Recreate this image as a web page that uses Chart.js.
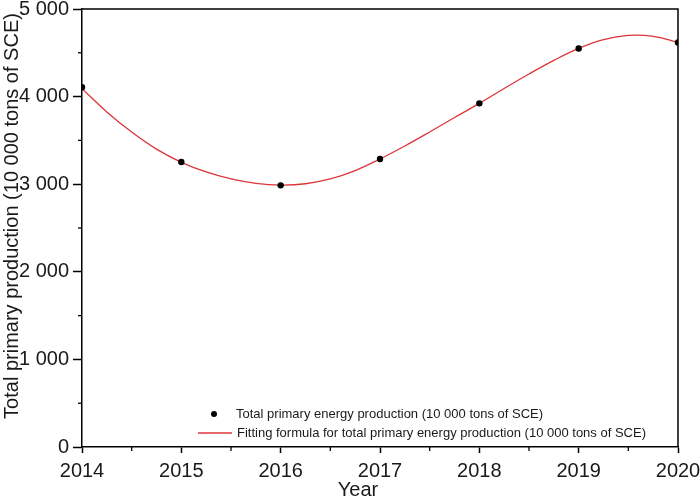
<!DOCTYPE html>
<html>
<head>
<meta charset="utf-8">
<script src="https://cdn.jsdelivr.net/npm/chart.js@4/dist/chart.umd.min.js"></script>
<style>
  html, body { margin: 0; padding: 0; background: #ffffff; }
  #wrap { width: 700px; height: 502px; position: relative; }
</style>
</head>
<body>
<div id="wrap"><canvas id="c" width="700" height="502"></canvas></div>
<script>
// ---- data ----
const years = [2014, 2015, 2016, 2017, 2018, 2019, 2020];
const production = [4106, 3253, 2987, 3288, 3923, 4549, 4617];

const fitYears = [2014, 2014.25, 2014.5, 2014.75, 2015, 2015.25, 2015.5, 2015.75,
                  2016, 2016.25, 2016.5, 2016.75, 2017, 2017.25, 2017.5, 2017.75,
                  2018, 2018.25, 2018.5, 2018.75, 2019, 2019.25, 2019.5, 2019.75, 2020];
const fitValues = [4090, 3825, 3595, 3400, 3250, 3140, 3060, 3010,
                   2990, 3005, 3060, 3155, 3288, 3436, 3596, 3761,
                   3923, 4093, 4258, 4413, 4550, 4650, 4698, 4688, 4618];

const xTickValues = [2014, 2015, 2016, 2017, 2018, 2019, 2020];
const yTickValues = [0, 1000, 2000, 3000, 4000, 5000];

const pointLabel = 'Total primary energy production (10 000 tons of SCE)';
const fitLabel = 'Fitting formula for total primary energy production (10 000 tons of SCE)';
const xTitle = 'Year';
const yTitle = 'Total primary production (10 000 tons of SCE)';

// ---- styling ----
const RED = '#dc3538';
const INK = '#1c1a18';
const FONT = '"Liberation Sans", Arial, Helvetica, sans-serif';

function fmtY(v) {
  if (v === 0) return '0';
  const th = Math.floor(v / 1000);
  const rest = String(v % 1000).padStart(3, '0');
  return th + ' ' + rest;
}

const decorPlugin = {
  id: 'decor',
  afterDraw(chart) {
    const ctx = chart.ctx;
    const a = chart.chartArea;
    const xs = chart.scales.x, ys = chart.scales.y;
    ctx.save();
    // top & right frame
    ctx.strokeStyle = '#000';
    ctx.lineWidth = 1.5;
    ctx.beginPath();
    ctx.moveTo(a.left, a.top);
    ctx.lineTo(a.right, a.top);
    ctx.lineTo(a.right, a.bottom);
    ctx.stroke();
    // minor ticks
    ctx.lineWidth = 1.3;
    for (let i = 0; i < xTickValues.length - 1; i++) {
      const px = xs.getPixelForValue((xTickValues[i] + xTickValues[i + 1]) / 2);
      ctx.beginPath(); ctx.moveTo(px, a.bottom); ctx.lineTo(px, a.bottom + 4); ctx.stroke();
    }
    for (let i = 0; i < yTickValues.length - 1; i++) {
      const py = ys.getPixelForValue((yTickValues[i] + yTickValues[i + 1]) / 2);
      ctx.beginPath(); ctx.moveTo(a.left - 4, py); ctx.lineTo(a.left, py); ctx.stroke();
    }
    // axis titles
    ctx.fillStyle = INK;
    ctx.font = '20px ' + FONT;
    ctx.textAlign = 'center';
    ctx.textBaseline = 'middle';
    ctx.fillText(xTitle, 358, 490);
    ctx.save();
    ctx.translate(12, 216);
    ctx.rotate(-Math.PI / 2);
    ctx.font = '20px ' + FONT;
    ctx.fillText(yTitle, 0, 0);
    ctx.restore();
    // legend
    const drawFit = (text, x, y, target) => {
      ctx.font = '13px ' + FONT;
      ctx.textAlign = 'left';
      ctx.textBaseline = 'middle';
      const w = ctx.measureText(text).width;
      ctx.save();
      ctx.translate(x, y);
      if (w > target) ctx.scale(target / w, 1);
      ctx.fillText(text, 0, 0);
      ctx.restore();
    };
    ctx.fillStyle = '#000';
    ctx.beginPath();
    ctx.arc(214, 414, 3, 0, Math.PI * 2);
    ctx.fill();
    ctx.fillStyle = INK;
    drawFit(pointLabel, 236, 414, 316);
    ctx.strokeStyle = RED;
    ctx.lineWidth = 1.3;
    ctx.beginPath(); ctx.moveTo(198, 433); ctx.lineTo(232, 433); ctx.stroke();
    ctx.fillStyle = INK;
    drawFit(fitLabel, 237, 433, 422);
    ctx.restore();
  }
};

new Chart(document.getElementById('c'), {
  type: 'scatter',
  data: {
    datasets: [
      {
        type: 'scatter',
        label: pointLabel,
        data: years.map((x, i) => ({ x: x, y: production[i] })),
        pointRadius: 3.2,
        pointBackgroundColor: '#000',
        pointBorderWidth: 0,
        order: 0
      },
      {
        type: 'line',
        label: fitLabel,
        data: fitYears.map((x, i) => ({ x: x, y: fitValues[i] })),
        borderColor: RED,
        borderWidth: 1.3,
        pointRadius: 0,
        tension: 0.4,
        fill: false,
        order: 1
      }
    ]
  },
  options: {
    responsive: false,
    animation: false,
    devicePixelRatio: 1,
    layout: { padding: { top: 9, right: 22, left: 0, bottom: 0 } },
    plugins: {
      legend: { display: false },
      tooltip: { enabled: false }
    },
    scales: {
      x: {
        type: 'linear',
        min: 2014,
        max: 2020,
        afterBuildTicks(scale) { scale.ticks = xTickValues.map(v => ({ value: v })); },
        afterFit(scale) { scale.height = 55; scale.paddingLeft = 0; scale.paddingRight = 0; },
        ticks: {
          color: INK,
          font: { size: 20, family: FONT },
          padding: 6,
          maxRotation: 0,
          autoSkip: false,
          callback: v => String(v)
        },
        grid: { drawOnChartArea: false, tickLength: 6, tickColor: '#000', tickWidth: 1.5 },
        border: { display: true, color: '#000', width: 1.5 }
      },
      y: {
        min: 0,
        max: 5000,
        afterBuildTicks(scale) { scale.ticks = yTickValues.map(v => ({ value: v })); },
        afterFit(scale) { scale.width = 82; scale.paddingTop = 0; scale.paddingBottom = 0; },
        ticks: {
          color: INK,
          font: { size: 20, family: FONT },
          padding: 4,
          callback: v => fmtY(v)
        },
        grid: { drawOnChartArea: false, tickLength: 9, tickColor: '#000', tickWidth: 1.5 },
        border: { display: true, color: '#000', width: 1.5 }
      }
    }
  },
  plugins: [decorPlugin]
});
</script>
</body>
</html>
